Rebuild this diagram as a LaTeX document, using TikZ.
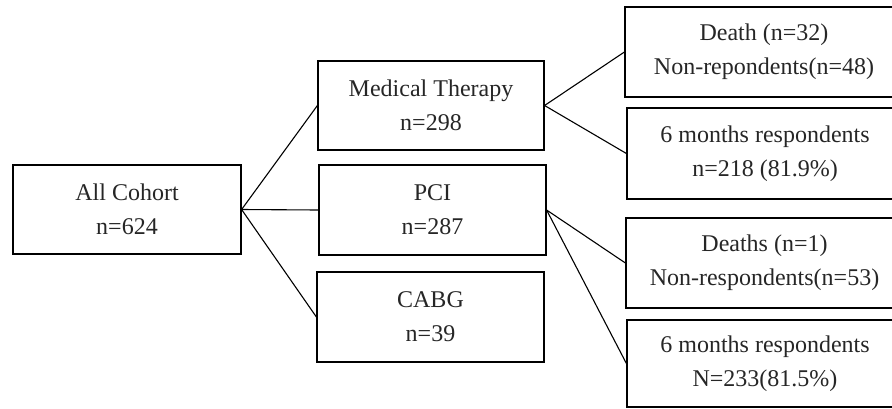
\documentclass[tikz,border=0pt]{standalone}
\usepackage{fontspec}
\setmainfont{Liberation Serif}
\begin{document}
\begin{tikzpicture}[x=1pt,y=-1pt,
  box/.style={draw=black,line width=1.2pt,rectangle,inner sep=0pt,align=center,
    font=\fontsize{24}{34}\selectfont,text=black!85},
  conn/.style={draw=black,line width=1.1pt}]
\path[use as bounding box] (0,0) rectangle (892,408);
\clip (0,0) rectangle (892,408);
\node[box,minimum width=228pt,minimum height=89pt] (all) at (127,209.5) {All Cohort\\n=624};
\node[box,minimum width=226pt,minimum height=89pt] (med) at (431,105.5) {Medical Therapy\\n=298};
\node[box,minimum width=227pt,minimum height=90pt] (pci) at (432.5,210) {PCI\\n=287};
\node[box,minimum width=227pt,minimum height=90pt] (cabg) at (430.5,317) {CABG\\n=39};
\node[box,minimum width=278pt,minimum height=90pt] (d1) at (764,52) {Death (n=32)\\Non-repondents(n=48)};
\node[box,minimum width=276pt,minimum height=91pt] (r1) at (765,153.5) {6 months respondents\\n=218 (81.9\%)};
\node[box,minimum width=277pt,minimum height=90pt] (d2) at (764.5,263) {Deaths (n=1)\\Non-respondents(n=53)};
\node[box,minimum width=276pt,minimum height=87pt] (r2) at (765,363.5) {6 months respondents\\N=233(81.5\%)};
\draw[conn] (all.east) -- (med.west);
\draw[conn] (all.east) -- (pci.west);
\draw[conn] (all.east) -- (cabg.west);
\draw[conn] (med.east) -- (d1.west);
\draw[conn] (med.east) -- (r1.west);
\draw[conn] (pci.east) -- (d2.west);
\draw[conn] (pci.east) -- (r2.west);
\end{tikzpicture}
\end{document}
